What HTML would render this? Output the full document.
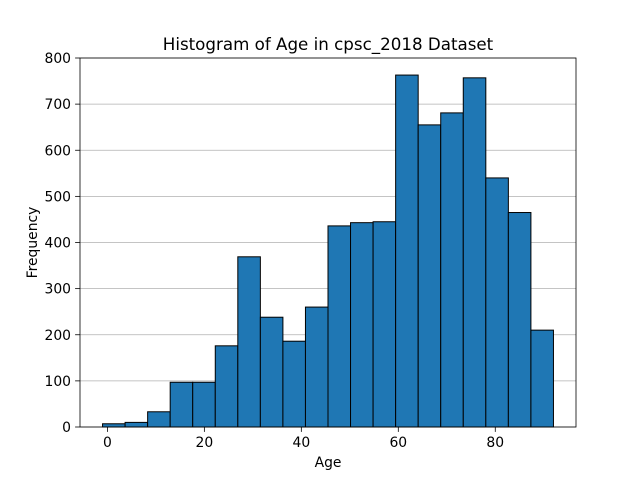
<!DOCTYPE html>
<html><head><meta charset="utf-8"><style>
body{margin:0;background:#fff;font-family:"Liberation Sans","DejaVu Sans",sans-serif;}
svg text{font-family:"DejaVu Sans","Liberation Sans",sans-serif;}
</style></head><body>
<svg id="chart" width="640" height="480"></svg>
<script>
const counts=[7,10,33,97,97,176,369,238,186,260,436,443,445,763,655,681,757,540,465,210];
const binStart=-1, binEnd=92;
const xTicks=[0,20,40,60,80];
const yTicks=[0,100,200,300,400,500,600,700,800];
const L=80,R=576,T=58,B=427;
const xmin=-5.65,xmax=96.65,ymax=800;
const X=v=>L+(v-xmin)/(xmax-xmin)*(R-L);
const Y=v=>B-v/ymax*(B-T);
const svg=document.getElementById('chart');
const NS='http://www.w3.org/2000/svg';
function mk(t,a,txt){const e=document.createElementNS(NS,t);for(const k in a)e.setAttribute(k,a[k]);if(txt!==undefined)e.textContent=txt;svg.appendChild(e);return e;}
yTicks.forEach(v=>{
 const g=mk('line',{x1:L,x2:R,y1:Y(v),y2:Y(v),stroke:'#b0b0b0','stroke-width':0.8});
 
 
});
const bw=(binEnd-binStart)/counts.length;
counts.forEach((c,i)=>{
 const x0=X(binStart+i*bw),x1=X(binStart+(i+1)*bw);
 const r=mk('rect',{x:x0,y:Y(c),width:x1-x0,height:Y(0)-Y(c),fill:'#1f77b4',stroke:'#000','stroke-width':1});
 
 
});
const f=mk('rect',{x:L,y:T,width:R-L,height:B-T,fill:'none',stroke:'#000','stroke-width':0.8});


xTicks.forEach(v=>{
 mk('line',{x1:X(v),x2:X(v),y1:B,y2:B+4.9,stroke:'#000','stroke-width':0.8});
 const t=mk('text',{x:X(v),y:B+20,'text-anchor':'middle','font-size':13.9},v);
 
 
});
yTicks.forEach(v=>{
 mk('line',{x1:L-4.9,x2:L,y1:Y(v),y2:Y(v),stroke:'#000','stroke-width':0.8});
 const t=mk('text',{x:L-9,y:Y(v)+5,'text-anchor':'end','font-size':13.9},v);
 
 
});
let t=mk('text',{x:(L+R)/2,y:467,'text-anchor':'middle','font-size':13.9},'Age');


t=mk('text',{x:37,y:(T+B)/2,'text-anchor':'middle','font-size':13.9,transform:'rotate(-90 37 '+(T+B)/2+')'},'Frequency');


t=mk('text',{x:(L+R)/2,y:50,'text-anchor':'middle','font-size':16.7},'Histogram of Age in cpsc_2018 Dataset');


</script>
</body></html>
